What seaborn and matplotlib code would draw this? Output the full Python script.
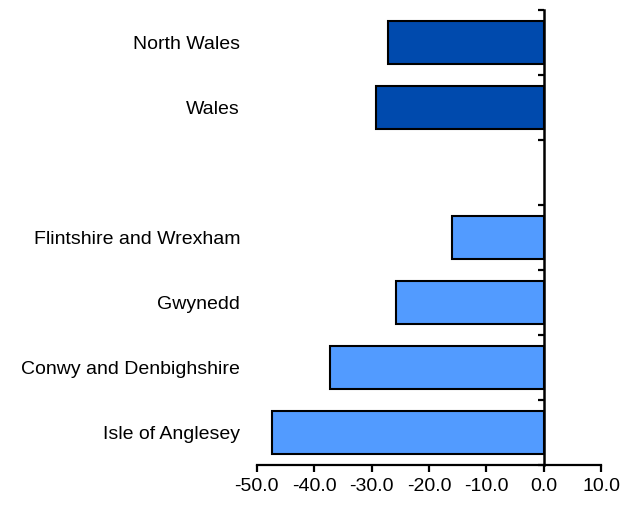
import numpy as np
import pandas as pd
import seaborn as sns
import matplotlib.pyplot as plt
from matplotlib.ticker import FormatStrFormatter

# Values (percentage change)
regions = ["North Wales", "Wales", "", "Flintshire and Wrexham", "Gwynedd",
           "Conwy and Denbighshire", "Isle of Anglesey"]
changes = [-27.1, -29.2, np.nan, -16.0, -25.7, -37.3, -47.4]
groups = ["region", "region", "gap", "area", "area", "area", "area"]

df = pd.DataFrame({"region": regions, "change": changes, "group": groups})

sns.set_style("white")
plt.rcParams["font.family"] = ["Liberation Sans", "DejaVu Sans"]

fig = plt.figure(figsize=(6.34, 5.05), dpi=100)
ax = fig.add_axes([0.405, 0.079, 0.543, 0.901])

sns.barplot(data=df, x="change", y="region", hue="group", order=regions,
            palette={"region": "#004AAD", "gap": "#FFFFFF", "area": "#529BFF"},
            saturation=1, orient="h", width=0.66, edgecolor="black",
            linewidth=1.5, legend=False, ax=ax)

ax.set_xlim(-50, 10)
ax.set_ylim(len(regions) - 0.5, -0.5)
ax.set_xticks(np.arange(-50, 11, 10))
ax.xaxis.set_major_formatter(FormatStrFormatter("%.1f"))
ax.set_xlabel("")
ax.set_ylabel("")

for side in ["top", "right", "left"]:
    ax.spines[side].set_visible(False)
ax.spines["bottom"].set_linewidth(1.6)
ax.spines["bottom"].set_color("black")

ax.tick_params(axis="x", direction="out", length=5, width=1.6, colors="black",
               labelcolor="black", labelsize=14, pad=4, bottom=True)
ax.tick_params(axis="y", length=0, labelsize=14, labelcolor="black", pad=12)

# vertical axis line at zero with ticks between categories
sec = ax.secondary_yaxis(50 / 60)
sec.set_yticks(np.arange(-0.5, len(regions), 1.0))
sec.set_yticklabels([])
for side in ["left", "right"]:
    sec.spines[side].set_linewidth(1.8)
    sec.spines[side].set_color("black")
sec.tick_params(axis="y", direction="in", length=4.5, width=1.6, colors="black")

fig.savefig("out.png", dpi=100, facecolor="white")
